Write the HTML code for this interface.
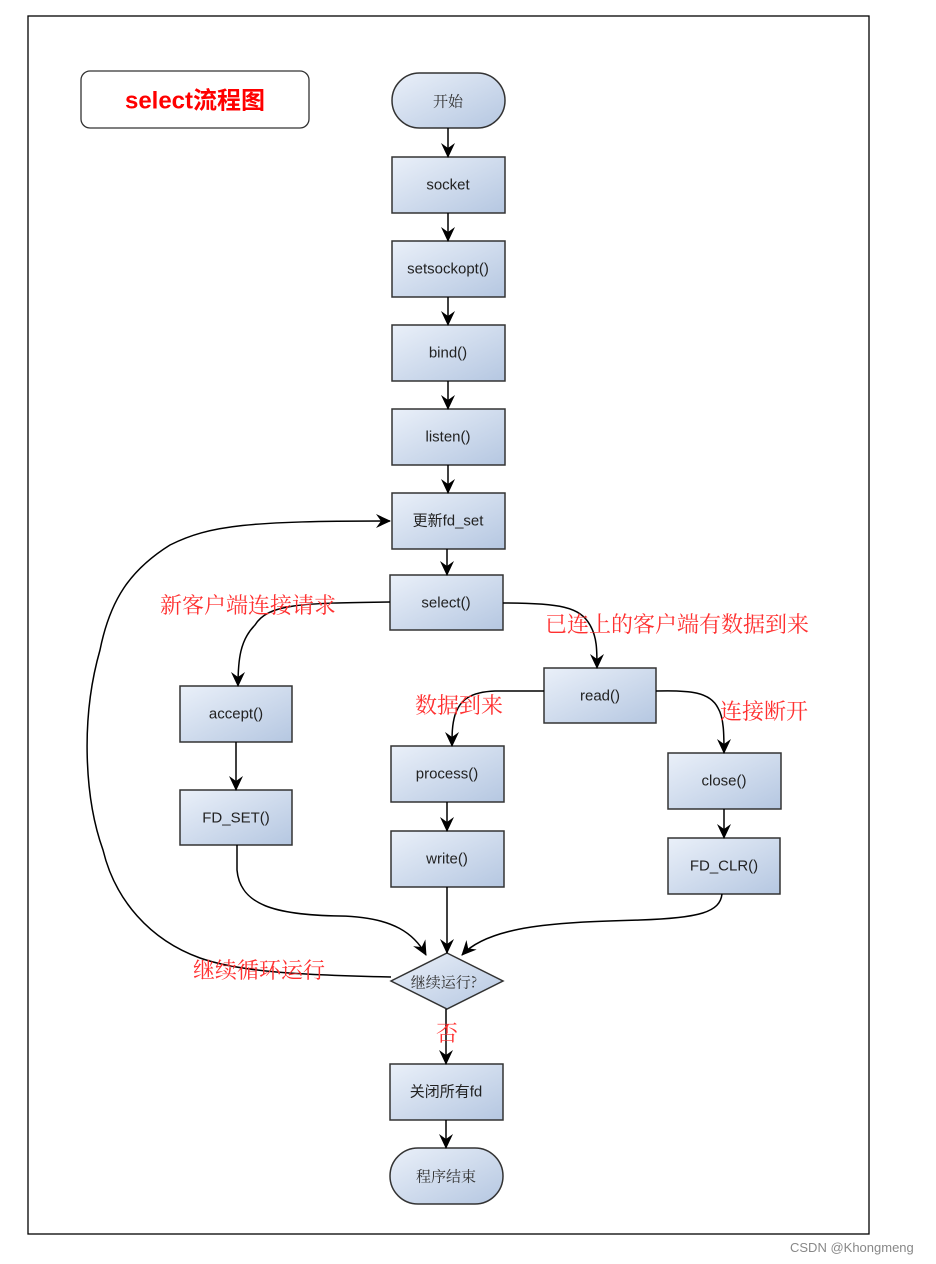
<!DOCTYPE html>
<html><head><meta charset="utf-8"><style>
html,body{margin:0;padding:0;background:#fff;}
svg{display:block;}
.n{font-family:"Liberation Sans","Noto Sans CJK SC",sans-serif;font-size:15px;fill:#222;text-anchor:middle;dominant-baseline:central;}
.z{font-family:"Noto Serif CJK SC","Liberation Serif",serif;font-size:15px;fill:#333;text-anchor:middle;dominant-baseline:central;}
.r{font-family:"Noto Serif CJK SC","Liberation Serif",serif;font-size:22px;fill:#ff3030;}
</style></head><body>
<svg width="936" height="1264" viewBox="0 0 936 1264" xmlns="http://www.w3.org/2000/svg">
<defs>
<linearGradient id="g" x1="0" y1="0" x2="1" y2="1">
<stop offset="0" stop-color="#eaf0f9"/><stop offset="1" stop-color="#b5c7e1"/>
</linearGradient>
<marker id="a" markerWidth="16" markerHeight="16" refX="14" refY="7" orient="auto" markerUnits="userSpaceOnUse">
<path d="M0,0 L15,7 L0,14 L5,7 z" fill="#000"/>
</marker>
</defs>
<rect x="28" y="16" width="841" height="1218" fill="none" stroke="#000" stroke-width="1.3"/>
<rect x="81" y="71" width="228" height="57" rx="9" fill="#fff" stroke="#333" stroke-width="1.3"/>
<text x="195" y="101" text-anchor="middle" dominant-baseline="central" style="font-family:'Liberation Sans','Noto Sans CJK SC',sans-serif;font-size:24px;font-weight:bold;fill:#ff0000">select流程图</text>

<g stroke="#333" stroke-width="1.5" fill="url(#g)">
<rect x="392" y="73" width="113" height="55" rx="27.5"/>
<rect x="392" y="157" width="113" height="56"/>
<rect x="392" y="241" width="113" height="56"/>
<rect x="392" y="325" width="113" height="56"/>
<rect x="392" y="409" width="113" height="56"/>
<rect x="392" y="493" width="113" height="56"/>
<rect x="390" y="575" width="113" height="55"/>
<rect x="180" y="686" width="112" height="56"/>
<rect x="180" y="790" width="112" height="55"/>
<rect x="544" y="668" width="112" height="55"/>
<rect x="391" y="746" width="113" height="56"/>
<rect x="391" y="831" width="113" height="56"/>
<rect x="668" y="753" width="113" height="56"/>
<rect x="668" y="838" width="112" height="56"/>
<polygon points="447,953 503,981 447,1009 391,981"/>
<rect x="390" y="1064" width="113" height="56"/>
<rect x="390" y="1148" width="113" height="56" rx="28"/>
</g>

<text class="z" x="448" y="101">开始</text>
<text class="n" x="448" y="185">socket</text>
<text class="n" x="448" y="269">setsockopt()</text>
<text class="n" x="448" y="353">bind()</text>
<text class="n" x="448" y="437">listen()</text>
<text class="n" x="448" y="521">更新fd_set</text>
<text class="n" x="446" y="603">select()</text>
<text class="n" x="236" y="714">accept()</text>
<text class="n" x="236" y="818">FD_SET()</text>
<text class="n" x="600" y="696">read()</text>
<text class="n" x="447" y="774">process()</text>
<text class="n" x="447" y="859">write()</text>
<text class="n" x="724" y="781">close()</text>
<text class="n" x="724" y="866">FD_CLR()</text>
<text class="z" x="444" y="982">继续运行?</text>
<text class="n" x="446" y="1092">关闭所有fd</text>
<text class="z" x="446" y="1176">程序结束</text>

<g stroke="#000" stroke-width="1.5" fill="none" marker-end="url(#a)">
<line x1="448" y1="128" x2="448" y2="157"/>
<line x1="448" y1="213" x2="448" y2="241"/>
<line x1="448" y1="297" x2="448" y2="325"/>
<line x1="448" y1="381" x2="448" y2="409"/>
<line x1="448" y1="465" x2="448" y2="493"/>
<line x1="447" y1="549" x2="447" y2="575"/>
<line x1="236" y1="742" x2="236" y2="790"/>
<line x1="447" y1="802" x2="447" y2="831"/>
<line x1="724" y1="809" x2="724" y2="838"/>
<line x1="447" y1="887" x2="447" y2="953"/>
<line x1="446" y1="1009" x2="446" y2="1064"/>
<line x1="446" y1="1120" x2="446" y2="1148"/>
<path d="M390,602 C300,603 268,604 255,625 C240,640 238,660 238,686"/>
<path d="M503,603 C560,603 580,607 590,625 C597,637 597,650 597,668"/>
<path d="M656,691 C690,690 710,692 718,708 C724,718 724,735 724,753"/>
<path d="M544,691 L495,691 C470,692 460,700 455,715 C452,725 452,735 452,746"/>
<path d="M237,845 L237,870 C240,905 275,915 340,916 C395,917 415,935 426,955"/>
<path d="M722,894 C720,912 700,918 640,920 C560,922 490,925 462,955"/>
<path d="M391,977 C300,975 240,972 200,958 C150,940 115,900 103,850 C85,800 80,720 100,650 C110,600 130,570 170,545 C210,525 250,521 390,521"/>
</g>

<text class="r" x="160" y="613">新客户端连接请求</text>
<text class="r" x="545" y="632">已连上的客户端有数据到来</text>
<text class="r" x="415" y="713">数据到来</text>
<text class="r" x="720" y="719">连接断开</text>
<text class="r" x="193" y="978">继续循环运行</text>
<text class="r" x="436" y="1041">否</text>
<text x="790" y="1252" style="font-family:'Liberation Sans',sans-serif;font-size:13px;fill:#888">CSDN @Khongmeng</text>
</svg>
</body></html>
